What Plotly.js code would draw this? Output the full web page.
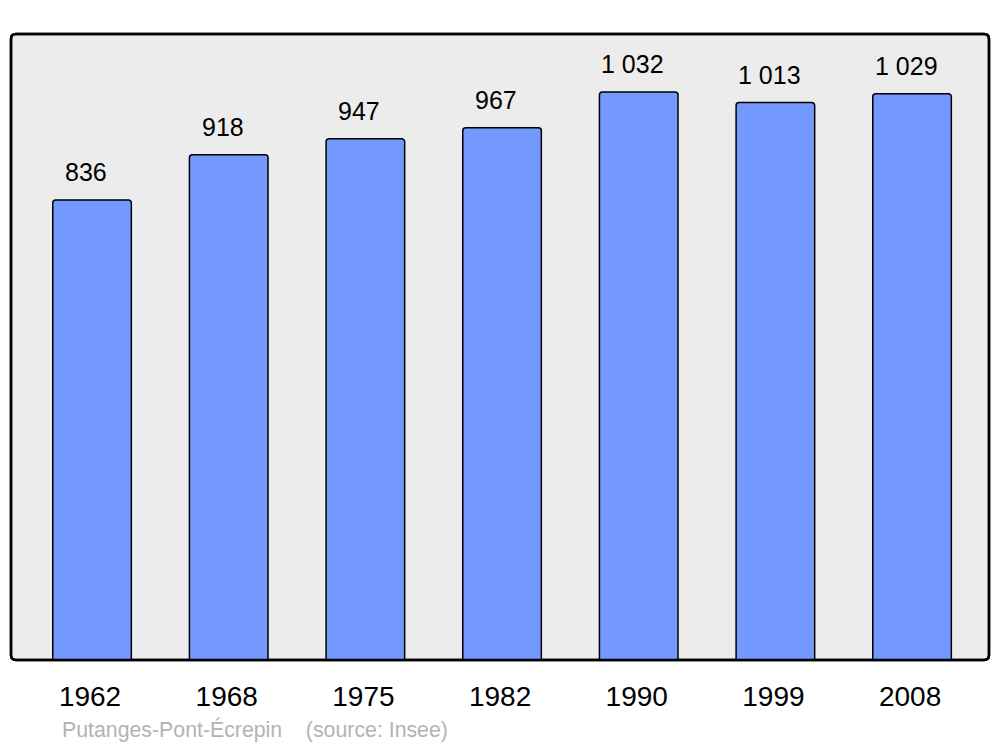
<!DOCTYPE html>
<html><head><meta charset="utf-8">
<script src="https://cdn.plot.ly/plotly-3.0.1.min.js"></script>
<style>html,body{margin:0;padding:0;background:#fff;}#chart{width:1000px;height:747px;}</style>
</head><body><div id="chart"></div>
<script>
const years = ["1962","1968","1975","1982","1990","1999","2008"];
const population = [836, 918, 947, 967, 1032, 1013, 1029];
const sourceText = "Putanges-Pont-\u00c9crepin    (source: Insee)";

function fmt(v){ return String(v).replace(/\B(?=(\d{3})+(?!\d))/g, "\u00a0"); }

const trace = {
  type: "bar", x: years, y: population, width: 0.575,
  marker: {color: "#7399ff", line: {color: "#000", width: 1.5}, cornerradius: 3},
  hoverinfo: "none"
};
const annotations = years.map((yr, i) => ({
  x: i, y: population[i], xref: "x", yref: "y", text: fmt(population[i]),
  showarrow: false, yanchor: "bottom", xshift: -6, yshift: 12,
  font: {family: "Liberation Sans, Arial, sans-serif", size: 25, color: "#000"}
}));
annotations.push({
  xref: "paper", yref: "paper", x: 0.052, y: -0.1118, xanchor: "left", yanchor: "middle",
  xshift: -2,
  text: sourceText, showarrow: false,
  font: {family: "Liberation Sans, Arial, sans-serif", size: 21.3, color: "#b3b3b3"}
});
const r = 0.005, ry = r * 978 / 626;
const framePath = `M ${r} 0 L ${1-r} 0 Q 1 0 1 ${ry} L 1 ${1-ry} Q 1 1 ${1-r} 1 L ${r} 1 Q 0 1 0 ${1-ry} L 0 ${ry} Q 0 0 ${r} 0 Z`;
const layout = {
  width: 1000, height: 747,
  margin: {l: 11, r: 11, t: 34, b: 87},
  paper_bgcolor: "#fff", plot_bgcolor: "rgba(0,0,0,0)",
  showlegend: false,
  xaxis: {type: "category", range: [-0.593, 6.563], showgrid: false, zeroline: false,
    showline: false, ticks: "outside", ticklen: 11, tickcolor: "rgba(0,0,0,0)",
    ticklabelshift: -2,
    tickfont: {family: "Liberation Sans, Arial, sans-serif", size: 28, color: "#000"}, fixedrange: true},
  yaxis: {range: [0, 1137.5], showgrid: false, zeroline: false, showline: false,
    showticklabels: false, ticks: "", fixedrange: true},
  shapes: [
    {type: "path", xref: "paper", yref: "paper", path: framePath, fillcolor: "#ececec",
     line: {color: "#000", width: 2.5}, layer: "below"},
    {type: "path", xref: "paper", yref: "paper", path: framePath, fillcolor: "rgba(0,0,0,0)",
     line: {color: "#000", width: 2.5}, layer: "above"}
  ],
  annotations: annotations
};
Plotly.newPlot("chart", [trace], layout, {displayModeBar: false, staticPlot: true});
</script></body></html>
